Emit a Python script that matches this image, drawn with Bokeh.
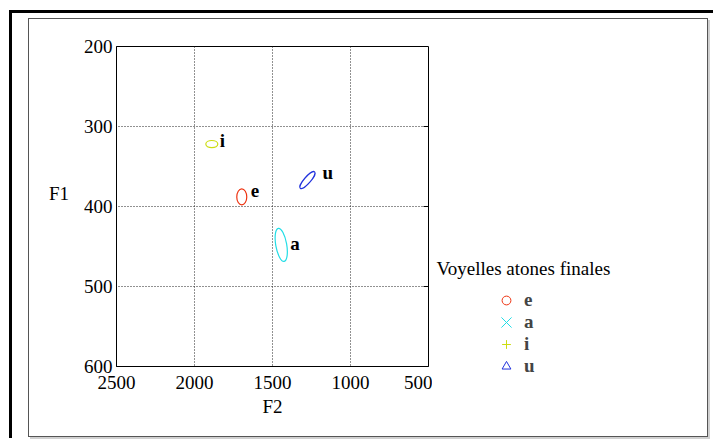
import math
from bokeh.plotting import figure
from bokeh.layouts import row, column
from bokeh.models import (Range1d, Label, Legend, LegendItem, ColumnDataSource)
from bokeh.core.properties import value
from bokeh.embed import file_html
from bokeh.resources import INLINE

# ---- data ----
vowels = ["e", "a", "i", "u"]
f2_center = [1697, 1444, 1889, 1276]      # Hz
f1_center = [388, 448, 322, 367]          # Hz
f2_spread = [64, 70, 77, 140]             # ellipse extent along F2 (Hz)
f1_spread = [20, 42, 9, 8]                # ellipse extent along F1 (Hz)
tilt_deg = [0, 10, 0, 49]
x_ticks = [2500, 2000, 1500, 1000, 500]
y_ticks = [200, 300, 400, 500, 600]
legend_title = "Voyelles atones finales"

# ---- styles ----
colors = ["#ee3311", "#22dde6", "#ccdd11", "#2233dd"]
markers = ["circle", "x", "cross", "triangle"]
label_dx = [9, 9, 8, 15]
label_dy = [-6, -1, -4, -8]
SERIF = "Liberation Serif"
FS = "19px"

MAIN_W, LEG_W, H = 403, 275, 417

p = figure(width=MAIN_W, height=H, output_backend="svg", toolbar_location=None,
           title=None,
           x_range=Range1d(x_ticks[0], x_ticks[-1]),
           y_range=Range1d(y_ticks[-1], y_ticks[0]),
           min_border_left=87, min_border_top=27,
           min_border_right=4, min_border_bottom=70)
p.background_fill_color = "white"
p.border_fill_color = "white"
p.outline_line_color = "black"
p.outline_line_width = 1

p.xaxis.ticker = x_ticks
p.yaxis.ticker = y_ticks
for ax in (p.xaxis[0], p.yaxis[0]):
    ax.major_tick_in = 0
    ax.major_tick_out = 0
    ax.minor_tick_line_color = None
    ax.axis_line_color = "black"
    ax.major_label_text_font = SERIF
    ax.major_label_text_font_size = FS
    ax.major_label_text_color = "black"
    ax.axis_label_text_font = SERIF
    ax.axis_label_text_font_size = FS
    ax.axis_label_text_font_style = "normal"
    ax.axis_label_text_color = "black"
p.xaxis.axis_label = "F2"
p.yaxis.axis_label = "F1\n"
p.xaxis.major_label_standoff = 9
p.xaxis.axis_label_standoff = 4
p.yaxis.major_label_standoff = 4
p.yaxis.axis_label_standoff = 12
p.yaxis.axis_label_orientation = "horizontal"

p.grid.grid_line_color = "#222222"
p.grid.grid_line_dash = "1 2"
p.grid.grid_line_width = 1

# short inward ticks on the right edge of the box
p.ray(x=[x_ticks[-1]] * (len(y_ticks) - 2), y=y_ticks[1:-1], length=5,
      length_units="screen", angle=math.pi, line_color="black", line_width=1)

src = ColumnDataSource(dict(x=f2_center, y=f1_center, w=f2_spread, h=f1_spread,
                            ang=[math.radians(t) for t in tilt_deg],
                            c=colors, t=vowels, dx=label_dx, dy=label_dy))
p.ellipse(x="x", y="y", width="w", height="h", angle="ang", source=src,
          fill_color=None, line_color="c", line_width=1.2)
p.text(x="x", y="y", text="t", x_offset="dx", y_offset="dy", source=src,
       text_font=value(SERIF), text_font_style="bold", text_font_size=FS,
       text_baseline="middle", text_align="left", text_color="black")

# ---- legend panel ----
q = figure(width=LEG_W, height=H, output_backend="svg", toolbar_location=None,
           title=None, x_range=Range1d(0, LEG_W), y_range=Range1d(H, 0),
           x_axis_type=None, y_axis_type=None, min_border=0)
q.outline_line_color = None
q.background_fill_color = "white"
q.border_fill_color = "white"

for fig in (p, q):
    try:
        fig.frame_align = False
    except Exception:
        pass

nan = float("nan")
items = []
for v, c, m in zip(vowels, colors, markers):
    r = q.scatter(x=[nan], y=[nan], marker=m, line_color=c, fill_color=None,
                  size=9, line_width=1)
    items.append(LegendItem(label=v, renderers=[r]))

# legend blocks: (item indices, glyph box, location, label standoff)
blocks = [([0], 22, (63, 125), 7),
          ([1], 36, (56, 96), 0),
          ([2, 3], 22, (63, 59), 7)]
for idx, g, loc, so in blocks:
    lg = Legend(items=[items[i] for i in idx], location=loc, padding=0,
                margin=0, spacing=0, glyph_width=g, glyph_height=g,
                label_height=22, label_standoff=so, label_text_font=SERIF,
                label_text_font_style="bold", label_text_font_size=FS,
                border_line_color=None, background_fill_alpha=0)
    q.add_layout(lg, "center")

q.add_layout(Label(x=4, y=249, text=legend_title, text_baseline="middle",
                   text_font=SERIF, text_font_size=FS, text_color="black"))

inner = row(p, q, styles={"border": "1px solid #555555",
                          "box-shadow": "2px 2px 0 #d0d0d0"})
outer = column(inner, styles={"margin-left": "9px", "margin-top": "10px",
                              "border-left": "3px solid black",
                              "border-top": "3px solid black",
                              "padding-left": "16px", "padding-top": "5px",
                              "padding-right": "5px", "padding-bottom": "1px"})

open("out.html", "w").write(file_html(outer, INLINE))
